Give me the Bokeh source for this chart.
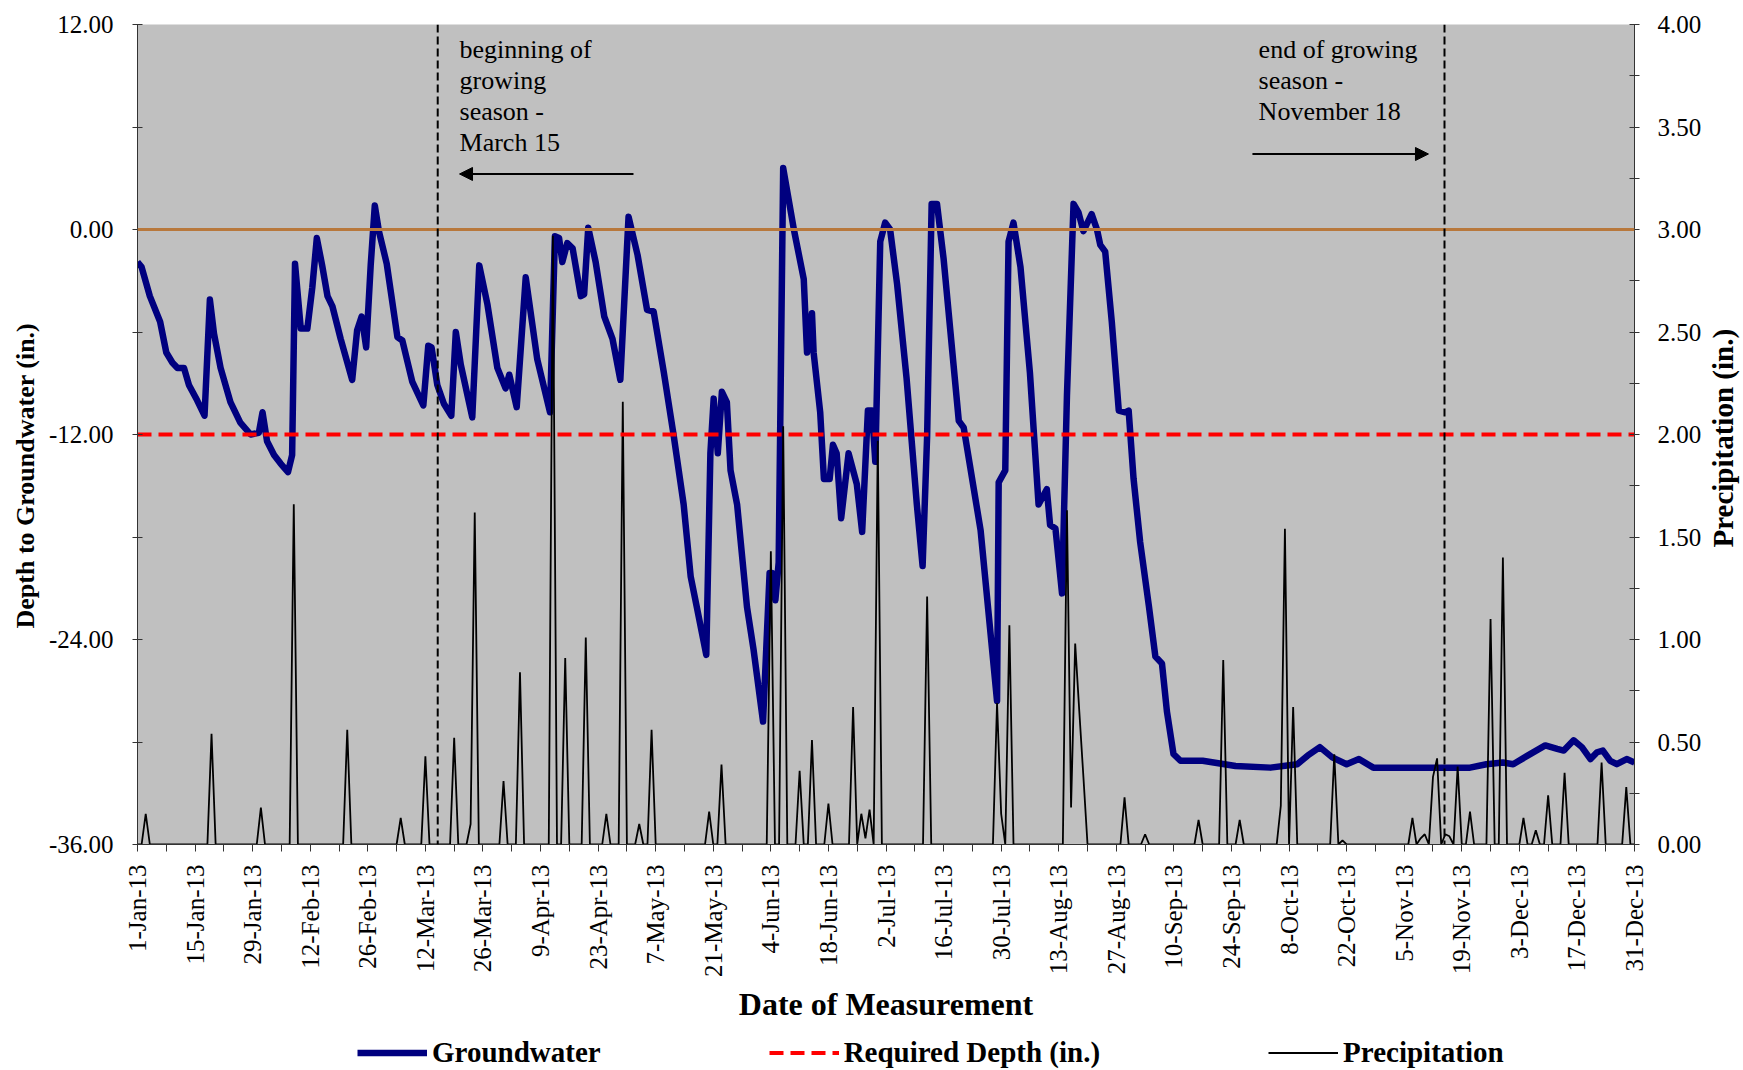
from math import pi
from bokeh.plotting import figure
from bokeh.layouts import row, column
from bokeh.models import (Range1d, LinearAxis, FixedTicker, PrintfTickFormatter, Span,
                          Label, Arrow, NormalHead, Legend, LegendItem)
from bokeh.core.properties import value
from bokeh.embed import file_html
from bokeh.resources import INLINE

SERIF = "Liberation Serif"

# ---------------- data ----------------
# x values are days after 1-Jan-2013
tick_days = list(range(0, 365, 14))
tick_labels = ["1-Jan-13", "15-Jan-13", "29-Jan-13", "12-Feb-13", "26-Feb-13", "12-Mar-13",
               "26-Mar-13", "9-Apr-13", "23-Apr-13", "7-May-13", "21-May-13", "4-Jun-13",
               "18-Jun-13", "2-Jul-13", "16-Jul-13", "30-Jul-13", "13-Aug-13", "27-Aug-13",
               "10-Sep-13", "24-Sep-13", "8-Oct-13", "22-Oct-13", "5-Nov-13", "19-Nov-13",
               "3-Dec-13", "17-Dec-13", "31-Dec-13"]
minor_days = list(range(7, 365, 14))

gw_day = [0, 1, 3, 5.5, 7, 8.5, 9.7, 11.3, 12.5, 14.5, 16.3, 17.6, 18.6, 20.2, 22.6, 25, 27.5,
          29.5, 30.4, 31.5, 33.2, 34.8, 36.6, 37.6, 38.3, 39.7, 41.3, 42.5, 43.6, 44.9, 46.2,
          47.4, 49.4, 52.2, 53.4, 54.5, 55.6, 56.7, 57.7, 58.7, 60.6, 63.2, 64.4, 66.8, 69.5,
          70.7, 71.5, 72.9, 74.5, 76.3, 77.4, 78.6, 81.4, 83.1, 85.1, 87.5, 89.5, 90.4, 92.2,
          94.4, 97.2, 100.3, 101.5, 102.5, 103.3, 104.5, 105.8, 107.8, 108.6, 109.6, 111.4,
          113.5, 115.5, 117.4, 119.4, 121.6, 123.9, 125.5, 128, 130.4, 132.8, 134.5, 136,
          138.3, 139.3, 140.1, 141.1, 142.1, 143.3, 144.2, 145.8, 148.2, 149.8, 152.1, 153.7,
          154.3, 155.1, 155.9, 157, 159.6, 162, 162.8, 164, 164.4, 166, 166.9, 168.3, 169.1,
          170, 171.1, 172.9, 174.9, 176.2, 177.6, 178.6, 179.4, 180.6, 181.8, 183, 184.7, 187,
          189.5, 190.9, 192, 193.1, 194.4, 196, 199.7, 200.9, 205, 209, 209.4, 211, 211.8, 213,
          214.7, 217, 219.1, 221.1, 221.9, 223.2, 224.8, 226, 227.6, 228.8, 230, 232, 233.3,
          234.1, 235.3, 236.9, 238.6, 240.2, 241, 242.2, 243.8, 245.9, 247.5, 249.1, 250.3,
          251.9, 253.6, 259, 267, 275.5, 282, 284.5, 287.5, 290.5, 294, 297, 300.5, 316, 324,
          328, 332, 334.5, 338, 342.3, 345.2, 346.8, 349.2, 351.2, 353.3, 354.9, 356.3, 358.1,
          359.7, 362.1, 364]
gw_depth = [-1.9, -2.2, -3.9, -5.4, -7.2, -7.8, -8.1, -8.1, -9.1, -10.0, -10.9, -4.1, -6.1, -8.1,
            -10.1, -11.3, -12.0, -11.9, -10.7, -12.4, -13.2, -13.7, -14.2, -13.2, -2.0, -5.8,
            -5.8, -3.4, -0.5, -2.1, -3.9, -4.5, -6.4, -8.8, -5.9, -5.1, -6.9, -2.1, 1.4, -0.1,
            -2.0, -6.3, -6.5, -8.9, -10.3, -6.8, -6.9, -9.1, -10.2, -10.9, -6.0, -7.9, -11.0,
            -2.1, -4.4, -8.1, -9.3, -8.5, -10.4, -2.8, -7.6, -10.7, -0.4, -0.5, -1.9, -0.8, -1.1,
            -3.9, -3.8, 0.1, -1.9, -5.1, -6.4, -8.8, 0.75, -1.5, -4.7, -4.8, -8.4, -12.1, -16.1,
            -20.3, -22.1, -24.9, -13.1, -9.9, -13.1, -9.5, -10.1, -14.1, -16.1, -22.1, -24.6,
            -28.8, -20.1, -20.1, -21.7, -19.5, 3.6, 0.0, -2.9, -7.2, -4.9, -7.2, -10.7, -14.6,
            -14.6, -12.6, -13.1, -16.9, -13.1, -14.9, -17.7, -10.6, -10.6, -13.6, -0.7, 0.4, 0.0,
            -3.2, -8.7, -16.1, -19.7, -12.1, 1.5, 1.5, -1.7, -11.2, -11.6, -17.6, -27.6, -14.8,
            -14.1, -0.7, 0.4, -2.2, -8.4, -16.1, -15.2, -17.3, -17.5, -21.3, -9.7, 1.5, 1.0,
            -0.1, 0.9, 0.0, -0.9, -1.3, -5.4, -10.6, -10.7, -10.6, -14.6, -18.3, -22.0, -25.0,
            -25.4, -28.2, -30.7, -31.1, -31.1, -31.4, -31.5, -31.3, -30.8, -30.3, -30.9, -31.3,
            -31.0, -31.5, -31.5, -31.5, -31.3, -31.2, -31.3, -30.8, -30.2, -30.4, -30.5, -29.9,
            -30.3, -31.0, -30.6, -30.5, -31.1, -31.3, -31.0, -31.2]

# daily precipitation: days with rain (all other days 0)
rain_day = [2, 18, 30, 38, 51, 64, 70, 77, 81, 82, 89, 93, 101, 104, 109, 114, 118, 122, 125,
            139, 142, 154, 157, 161, 164, 168, 174, 176, 177, 178, 180, 192, 209, 210, 212, 226,
            227, 228, 229, 230, 240, 245, 258, 264, 268, 278, 279, 281, 291, 293, 310, 312, 313,
            315, 316, 318, 319, 321, 324, 329, 332, 337, 340, 343, 347, 356, 362]
rain_in = [0.15, 0.54, 0.18, 1.66, 0.56, 0.13, 0.43, 0.52, 0.10, 1.62, 0.31, 0.84, 2.97, 0.91,
           1.01, 0.15, 2.16, 0.10, 0.56, 0.16, 0.39, 1.43, 2.04, 0.36, 0.51, 0.20, 0.67, 0.15,
           0.03, 0.17, 1.97, 1.21, 0.69, 0.15, 1.07, 1.63, 0.18, 0.98, 0.65, 0.33, 0.23, 0.05,
           0.12, 0.90, 0.12, 0.19, 1.54, 0.67, 0.44, 0.02, 0.13, 0.03, 0.05, 0.33, 0.42, 0.05,
           0.04, 0.38, 0.16, 1.10, 1.40, 0.13, 0.07, 0.24, 0.35, 0.40, 0.28]

required_depth = -12.0
ground_surface = 0.0
season_start_day = 73      # 15-Mar
season_end_day = 317.8     # dashed line as drawn

all_days = list(range(0, 365))
precip = [0.0] * len(all_days)
for d, v in zip(rain_day, rain_in):
    precip[d] = v

GW_COLOR = "#00007f"
REQ_COLOR = "#ff0000"
AX = "#333333"

# ---------------- main figure ----------------
MAIN_H = 1026
FRAME_TOP, FRAME_BOTTOM = 24, 844
p = figure(width=1660, height=MAIN_H, x_range=Range1d(0, 364), y_range=Range1d(-36, 12),
           output_backend="svg", toolbar_location=None,
           min_border_left=92, min_border_right=71, min_border_top=FRAME_TOP,
           min_border_bottom=MAIN_H - FRAME_BOTTOM,
           background_fill_color="#c0c0c0", border_fill_color="white",
           outline_line_color=None)
p.xgrid.visible = False
p.ygrid.visible = False
p.extra_y_ranges = {"precip": Range1d(0, 4)}

xa = p.xaxis[0]
xa.ticker = FixedTicker(ticks=tick_days, minor_ticks=minor_days)
xa.major_label_overrides = {d: lab for d, lab in zip(tick_days, tick_labels)}
xa.major_label_orientation = pi / 2
xa.major_label_text_font = SERIF
xa.major_label_text_font_size = "25px"
xa.major_label_text_color = "black"
xa.major_label_standoff = 13
xa.major_tick_in = 0
xa.major_tick_out = 7
xa.minor_tick_in = 0
xa.minor_tick_out = 7
xa.axis_line_color = AX
xa.major_tick_line_color = AX
xa.minor_tick_line_color = AX
xa.axis_label = "Date of Measurement"
xa.axis_label_text_font = SERIF
xa.axis_label_text_font_style = "bold"
xa.axis_label_text_font_size = "32px"
xa.axis_label_text_color = "black"
xa.axis_label_standoff = 6

ya = p.yaxis[0]
ya.ticker = FixedTicker(ticks=[-36, -24, -12, 0, 12], minor_ticks=[-30, -18, -6, 6])
ya.formatter = PrintfTickFormatter(format="%.2f")
ya.major_label_text_font = SERIF
ya.major_label_text_font_size = "25px"
ya.major_label_text_color = "black"
ya.major_label_standoff = 19
ya.major_tick_in = 5
ya.major_tick_out = 5
ya.minor_tick_in = 5
ya.minor_tick_out = 5
ya.axis_line_color = AX
ya.major_tick_line_color = AX
ya.minor_tick_line_color = AX

ra = LinearAxis(y_range_name="precip",
                ticker=FixedTicker(ticks=[0, 0.5, 1, 1.5, 2, 2.5, 3, 3.5, 4],
                                   minor_ticks=[0.25, 0.75, 1.25, 1.75, 2.25, 2.75, 3.25, 3.75]),
                formatter=PrintfTickFormatter(format="%.2f"))
ra.major_label_text_font = SERIF
ra.major_label_text_font_size = "25px"
ra.major_label_text_color = "black"
ra.major_label_standoff = 18
ra.major_tick_in = 5
ra.major_tick_out = 5
ra.minor_tick_in = 5
ra.minor_tick_out = 5
ra.axis_line_color = AX
ra.major_tick_line_color = AX
ra.minor_tick_line_color = AX
p.add_layout(ra, "right")

# series
r_gw = p.line(gw_day, gw_depth, line_color=GW_COLOR, line_width=6.5, line_join="round")
r_pr = p.line(all_days, precip, y_range_name="precip", line_color="black", line_width=1.8)
r_req = p.line([all_days[0], all_days[-1]], [required_depth, required_depth],
               line_color=REQ_COLOR, line_width=4, line_dash="14 7")

p.add_layout(Span(location=ground_surface, dimension="width", line_color="#b8783c", line_width=3))
for loc in (season_start_day, season_end_day):
    p.add_layout(Span(location=loc, dimension="height", line_color="black",
                      line_width=2, line_dash="8 4"))

p.add_layout(Label(x=78.3, y=11.4, text="beginning of\ngrowing\nseason -\nMarch 15",
                   text_font=SERIF, text_font_size="26px", text_color="black",
                   text_baseline="top", text_align="left", text_line_height=1.07))
p.add_layout(Label(x=272.6, y=11.4, text="end of growing\nseason -\nNovember 18",
                   text_font=SERIF, text_font_size="26px", text_color="black",
                   text_baseline="top", text_align="left", text_line_height=1.07))
p.add_layout(Arrow(end=NormalHead(size=13, fill_color="black", line_color="black"),
                   x_start=120.6, y_start=3.25, x_end=78.3, y_end=3.25,
                   line_color="black", line_width=2))
p.add_layout(Arrow(end=NormalHead(size=13, fill_color="black", line_color="black"),
                   x_start=271.1, y_start=4.42, x_end=313.9, y_end=4.42,
                   line_color="black", line_width=2))


# ---------------- side strips (axis titles, legend) ----------------
def strip(w, h, y_range):
    f = figure(width=w, height=h, x_range=Range1d(0, w), y_range=y_range,
               output_backend="svg", toolbar_location=None, min_border=0,
               x_axis_type=None, y_axis_type=None, outline_line_color=None,
               background_fill_color="white", border_fill_color="white")
    f.grid.visible = False
    return f


# in a row the strips share the main plot's frame rows: use y = -(pixel row on page)
left = strip(45, MAIN_H, Range1d(-FRAME_BOTTOM, -FRAME_TOP))
left.text(x=[25.3], y=[-628], text=["Depth to Groundwater (in.)"], angle=pi / 2,
          text_font=value(SERIF), text_font_style="bold", text_font_size="26px",
          text_color="black", text_align="left", text_baseline="middle")

right = strip(38, MAIN_H, Range1d(-FRAME_BOTTOM, -FRAME_TOP))
right.text(x=[17.3], y=[-547], text=["Precipitation (in.)"], angle=pi / 2,
           text_font=value(SERIF), text_font_style="bold", text_font_size="29px",
           text_color="black", text_align="left", text_baseline="middle")

LEG_H = 1070 - MAIN_H
leg = strip(1743, LEG_H, Range1d(0, LEG_H))
l_gw = leg.line([-20, -10], [-20, -20], line_color=GW_COLOR, line_width=6.5)
l_req = leg.line([-20, -10], [-20, -20], line_color=REQ_COLOR, line_width=4, line_dash="14 7")
l_pr = leg.line([-20, -10], [-20, -20], line_color="black", line_width=1.8)
legend = Legend(items=[LegendItem(label="Groundwater", renderers=[l_gw]),
                       LegendItem(label="Required Depth (in.)", renderers=[l_req]),
                       LegendItem(label="Precipitation", renderers=[l_pr])],
                orientation="horizontal", location=(357, 0),
                label_text_font=SERIF, label_text_font_style="bold",
                label_text_font_size="29px", label_text_color="black",
                glyph_width=70, glyph_height=35, label_standoff=5, spacing=168,
                padding=0, margin=0, border_line_color=None, background_fill_alpha=0)
leg.add_layout(legend)

layout = column(row(left, p, right, spacing=0), leg, spacing=0)
open("out.html", "w").write(file_html(layout, INLINE))
